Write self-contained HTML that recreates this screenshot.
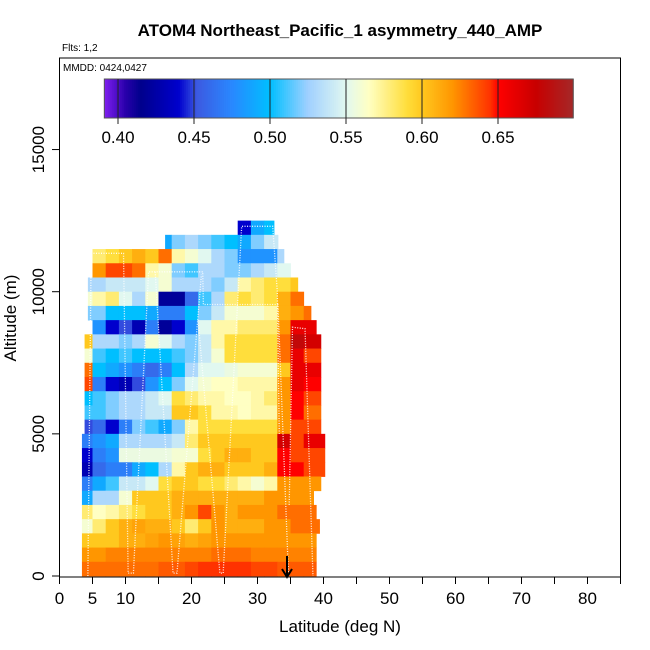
<!DOCTYPE html>
<html><head><meta charset="utf-8"><style>
body{margin:0;background:#fff;}
svg{display:block;font-family:"Liberation Sans",sans-serif;}
</style></head><body>
<svg id="chart" width="650" height="650" viewBox="0 0 650 650">
<text x="340" y="36" text-anchor="middle" font-size="17" font-weight="bold">ATOM4 Northeast_Pacific_1 asymmetry_440_AMP</text>
<text x="62" y="51" font-size="10">Flts: 1,2</text>
<g id="cells"></g>
<g id="tracks"></g>
<rect x="59.5" y="58" width="561" height="519" fill="none" stroke="#000" stroke-width="1"/>
<text x="63" y="71" font-size="10">MMDD: 0424,0427</text>
<g id="cbar"></g>
<g id="axes"></g>
<text x="340" y="632" text-anchor="middle" font-size="17">Latitude (deg N)</text>
<text transform="translate(16,318) rotate(-90)" text-anchor="middle" font-size="17">Altitude (m)</text>
<path d="M287,556 L287,576 M282,569 L287,577 L292,569" stroke="#000" stroke-width="2" fill="none"/>
</svg>
<script>
// rows top-down: 12000-12500 ... 0-500 ; columns lat 3-5,5-7,...,37-39
const rowLo=[27,16,5,5,4.3,4.3,4.3,4.9,3.8,3.8,3.8,3.8,3.8,3.8,3.8,3.4,3.4,3.4,3.4,3.4,3.4,3.4,3.4,3.4,3.4];
const rowHi=[32.5,33.1,34,35,36.1,37,38.1,38.9,39.6,39.6,39.6,39.6,39.6,39.6,39.6,40.2,40.2,40.2,39.6,38.5,38.9,39.4,38.9,38.9,38.9];
const N=null;
const cellValues=[
[N,N,N,N,N,N,N,N,N,N,N,N,0.44,0.49,0.50,N,N,N],
[N,N,N,N,N,N,0.49,0.52,0.53,0.52,0.51,0.50,0.49,0.52,0.54,0.54,N,N],
[N,0.58,0.59,0.60,0.61,0.60,0.63,0.57,0.56,0.55,0.53,0.52,0.48,0.48,0.48,0.53,N,N],
[N,0.62,0.64,0.64,0.63,0.57,0.56,0.52,0.51,0.53,0.53,0.52,0.52,0.53,0.54,0.55,0.55,N],
[0.53,0.53,0.54,0.54,0.54,0.55,0.56,0.53,0.53,0.53,0.52,0.54,0.57,0.58,0.59,0.59,0.60,N],
[0.56,0.57,0.58,0.55,0.53,0.56,0.42,0.42,0.46,0.51,0.53,0.58,0.59,0.58,0.59,0.61,0.63,N],
[0.52,0.52,0.50,0.50,0.50,0.49,0.47,0.47,0.50,0.52,0.54,0.56,0.56,0.56,0.57,0.61,0.62,0.63],
[N,0.48,0.44,0.45,0.43,0.47,0.42,0.44,0.48,0.55,0.57,0.57,0.58,0.58,0.58,0.62,0.66,0.66],
[0.60,0.53,0.53,0.52,0.53,0.56,0.55,0.53,0.52,0.54,0.57,0.59,0.59,0.59,0.59,0.63,0.68,0.67],
[0.56,0.51,0.50,0.51,0.50,0.50,0.50,0.51,0.52,0.54,0.56,0.59,0.59,0.59,0.59,0.63,0.66,0.64],
[0.63,0.50,0.49,0.48,0.47,0.46,0.47,0.50,0.53,0.55,0.55,0.555,0.56,0.56,0.56,0.60,0.66,0.66],
[0.64,0.47,0.44,0.43,0.45,0.48,0.50,0.52,0.55,0.56,0.565,0.565,0.57,0.57,0.57,0.62,0.66,0.65],
[0.50,0.51,0.52,0.53,0.53,0.54,0.55,0.59,0.58,0.57,0.57,0.565,0.565,0.57,0.58,0.62,0.65,0.64],
[0.51,0.51,0.52,0.53,0.53,0.54,0.54,0.60,0.60,0.59,0.57,0.57,0.565,0.57,0.57,0.62,0.65,0.63],
[0.45,0.46,0.44,0.47,0.52,0.51,0.49,0.52,0.57,0.59,0.59,0.59,0.59,0.59,0.59,0.62,0.64,0.64],
[0.47,0.48,0.49,0.53,0.53,0.53,0.53,0.54,0.58,0.60,0.60,0.60,0.60,0.60,0.60,0.67,0.64,0.66],
[0.44,0.47,0.48,0.555,0.555,0.555,0.555,0.56,0.56,0.59,0.60,0.61,0.61,0.60,0.60,0.65,0.64,0.64],
[0.43,0.46,0.47,0.47,0.49,0.50,0.53,0.57,0.60,0.61,0.61,0.60,0.60,0.60,0.61,0.65,0.65,0.64],
[0.47,0.49,0.51,0.54,0.54,0.55,0.59,0.60,0.60,0.59,0.59,0.58,0.57,0.56,0.57,0.62,0.62,0.62],
[0.49,0.53,0.53,0.56,0.60,0.60,0.60,0.61,0.61,0.61,0.61,0.61,0.61,0.61,0.62,0.62,0.62,0.62],
[0.58,0.565,0.57,0.58,0.59,0.60,0.60,0.61,0.62,0.64,0.62,0.61,0.62,0.62,0.62,0.63,0.63,0.63],
[0.56,0.58,0.60,0.61,0.615,0.61,0.61,0.60,0.58,0.60,0.62,0.61,0.61,0.61,0.62,0.62,0.63,0.63],
[0.60,0.60,0.60,0.61,0.61,0.615,0.62,0.615,0.61,0.615,0.62,0.62,0.62,0.62,0.62,0.62,0.62,0.62],
[0.62,0.62,0.625,0.625,0.625,0.625,0.625,0.625,0.625,0.625,0.63,0.63,0.63,0.625,0.625,0.625,0.625,0.625],
[0.63,0.63,0.63,0.63,0.63,0.63,0.635,0.635,0.64,0.645,0.645,0.645,0.645,0.64,0.64,0.635,0.635,0.635]
];
const colLat0=3, colStep=2, rowStep=500, topRowAlt=12000;
const xTicks=[0,5,10,15,20,25,30,35,40,45,50,55,60,65,70,75,80,85];
const xLabels=[0,5,10,20,30,40,50,60,70,80];
const yTicks=[0,5000,10000,15000];
const cbTicks=[0.40,0.45,0.50,0.55,0.60,0.65];
const cbMin=0.391, cbMax=0.6995;
const track1Lat=[4.3,4.8,9.7,10.4,11.2,13.5,18.6,21.7,21.8,33.1,34.7];
const track1Alt=[0,11350,11350,100,100,10700,10700,10700,9550,9550,0];
const track2Lat=[14.5,17.2,17.8,21.5];
const track2Alt=[10700,100,100,10600];
const track3Lat=[21,24.3,24.8,27.6,32.3,33,33.3];
const track3Alt=[9000,100,100,12300,12300,10000,5000];
const track4Lat=[34.8,35.3,37.2,38.4];
const track4Alt=[2500,8750,8700,0];

const X=lat=>59.5+lat*6.6;
const Y=alt=>576-alt*0.02843;
const CB=v=>118+(v-0.40)*1520;
const stops=[[0.391,[128,32,240]],[0.405,[40,0,170]],[0.415,[0,0,140]],[0.44,[0,0,205]],[0.452,[60,90,225]],[0.475,[40,136,255]],[0.50,[0,191,255]],[0.525,[160,208,255]],[0.55,[225,248,240]],[0.565,[255,255,195]],[0.59,[255,222,60]],[0.60,[255,200,30]],[0.62,[255,150,0]],[0.645,[255,50,0]],[0.65,[255,0,0]],[0.675,[200,0,0]],[0.6995,[165,40,40]]];
function color(v){
  if(v<=stops[0][0])return 'rgb('+stops[0][1]+')';
  for(let i=1;i<stops.length;i++){if(v<=stops[i][0]){const a=stops[i-1],b=stops[i],t=(v-a[0])/(b[0]-a[0]);return 'rgb('+a[1].map((c,k)=>Math.round(c+(b[1][k]-c)*t)).join(',')+')';}}
  return 'rgb('+stops[stops.length-1][1]+')';
}
const NS='http://www.w3.org/2000/svg';
function mk(tag,attrs,parent){const e=document.createElementNS(NS,tag);for(const k in attrs)e.setAttribute(k,attrs[k]);parent.appendChild(e);return e;}
const cells=document.getElementById('cells');
cellValues.forEach((row,r)=>{
  const alt0=topRowAlt-r*rowStep;
  let last=-1;row.forEach((v,c)=>{if(v!==null)last=c;});
  row.forEach((v,c)=>{
    if(v===null)return;
    const l0=Math.max(rowLo[r],colLat0+c*colStep);
    const l1=c===last?rowHi[r]:Math.min(rowHi[r],colLat0+(c+1)*colStep);
    if(l1<=l0)return;
    const e=mk('rect',{x:X(l0),y:Y(alt0+rowStep),width:X(l1)-X(l0)+0.4,height:Y(alt0)-Y(alt0+rowStep)+0.4,fill:color(v)},cells);
    
    
  });
});
const tracks=document.getElementById('tracks');
[[track1Lat,track1Alt],[track2Lat,track2Alt],[track3Lat,track3Alt],[track4Lat,track4Alt]].forEach(([la,al])=>{
  const p=mk('polyline',{points:la.map((l,i)=>X(l)+','+Y(al[i])).join(' '),fill:'none',stroke:'#fff','stroke-width':1.3,'stroke-dasharray':'1 1.5','stroke-opacity':0.9},tracks);
  
  
});
const cb=document.getElementById('cbar');
const cbL=CB(cbMin), cbR=CB(cbMax), nSeg=235, segW=(cbR-cbL)/nSeg;
for(let i=0;i<nSeg;i++){
  const v=cbMin+(cbMax-cbMin)*(i+0.5)/nSeg;
  const e=mk('rect',{x:cbL+i*segW,y:79,width:segW+0.4,height:39,fill:color(v)},cb);
  
  
}
mk('rect',{x:cbL,y:79,width:cbR-cbL,height:39,fill:'none',stroke:'#555','stroke-width':1},cb);
cbTicks.forEach(t=>{
  const x=CB(t);
  mk('line',{x1:x,y1:79,x2:x,y2:124,stroke:'#222','stroke-width':1},cb);
  const e=mk('text',{x:x,y:143,'text-anchor':'middle','font-size':17},cb);
  e.textContent=t.toFixed(2);
  
  
});
const ax=document.getElementById('axes');
xTicks.forEach(t=>{mk('line',{x1:X(t),y1:577,x2:X(t),y2:584,stroke:'#000'},ax);});
xLabels.forEach(t=>{
  const e=mk('text',{x:X(t),y:604,'text-anchor':'middle','font-size':17},ax);
  e.textContent=t;
  
  
});
yTicks.forEach(t=>{
  mk('line',{x1:52,y1:Y(t),x2:59.5,y2:Y(t),stroke:'#000'},ax);
  const e=mk('text',{transform:'translate(44,'+Y(t)+') rotate(-90)','text-anchor':'middle','font-size':17},ax);
  e.textContent=t;
  
  
});
</script>
</body></html>
